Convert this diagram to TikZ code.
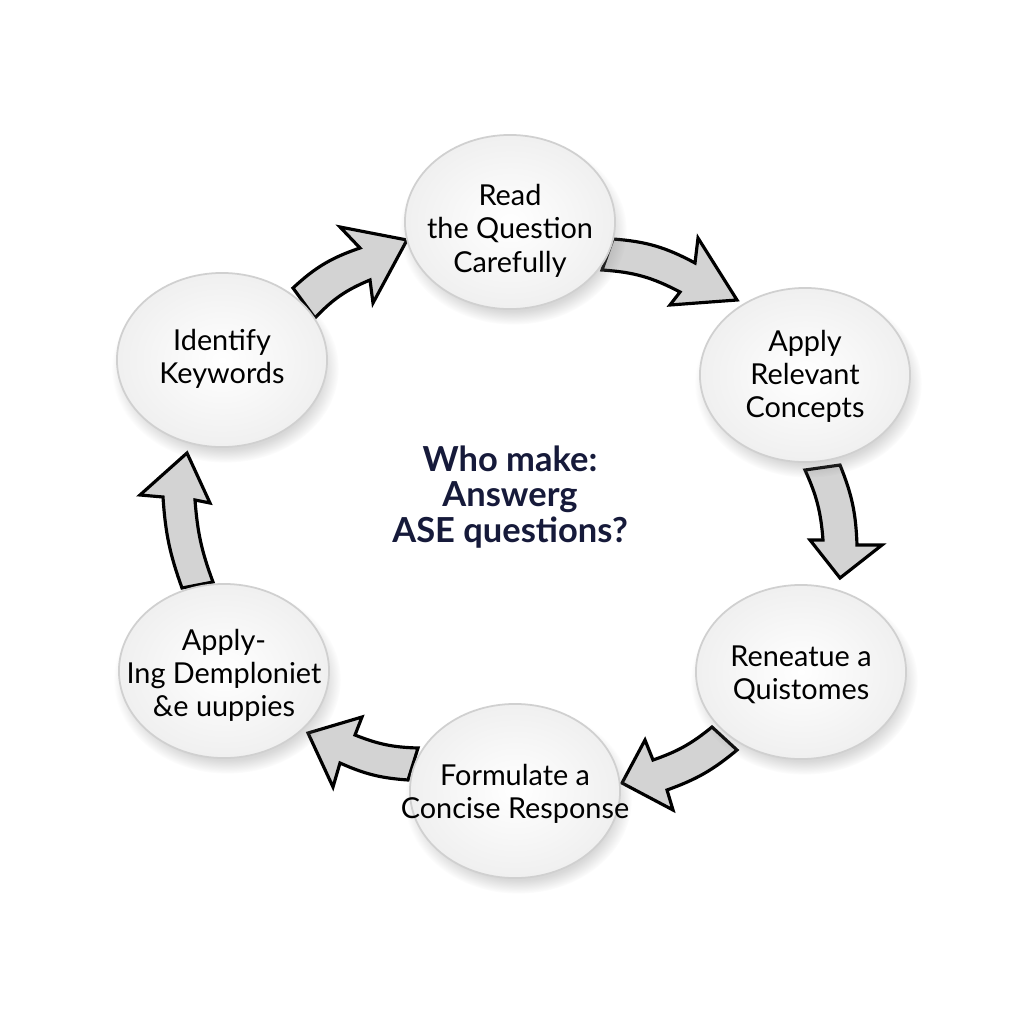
\documentclass[tikz,border=0pt]{standalone}
\usepackage{fontspec}
\setmainfont{Lato}
\usetikzlibrary{shapes.geometric,shadows,fadings}
\definecolor{navy}{HTML}{161A3A}
\definecolor{arrowgray}{HTML}{D3D3D3}
\definecolor{rim}{HTML}{D0D0D0}
\newcommand{\bubbletext}[2][0]{\makebox[0pt]{\raisebox{\dimexpr-0.9ex+#1pt\relax}[0pt][0pt]{\begin{tabular}{@{}c@{}}#2\end{tabular}}}}
\begin{document}
\begin{tikzpicture}[x=0.01cm,y=-0.01cm,
  bubble/.style={ellipse, minimum width=2.1cm, minimum height=1.74cm, inner sep=0pt,
    draw=rim, line width=0.5pt, inner color=white, outer color=black!6,
    font=\fontsize{8.2}{9.4}\selectfont, text=black,
    circular drop shadow={shadow scale=1.08, shadow xshift=0.03cm, shadow yshift=-0.08cm, opacity=0.3}},
  blockarrow/.style={fill=arrowgray, draw=black, line width=0.9pt, line join=miter},
  titletext/.style={align=center, font=\bfseries\fontsize{9.8}{10}\selectfont, text=navy}]
\useasboundingbox (0,0) rectangle (1024,1024);
\fill[white] (0,0) rectangle (1024,1024);

% block arrows (drawn first, bubbles overlap their tails)
\path[blockarrow] (293,288) to[bend left=12] (360,248) -- (340,227) -- (407,240) -- (373,303) -- (370,280) to[bend right=12] (315,318) -- cycle;
\path[blockarrow] (613,239) to[bend left=12] (695,263) -- (698,238) -- (737,300) -- (670,305) -- (680,292) to[bend right=12] (602,270) -- cycle;
\path[blockarrow] (840,465) to[bend left=10] (857,545) -- (882,545) -- (840,578) -- (810,540) -- (823,540) to[bend right=10] (805,470) -- cycle;
\path[blockarrow] (737,750) to[bend left=10] (667,790) -- (673,810) -- (622,783) -- (645,740) -- (653,760) to[bend right=10] (712,727) -- cycle;
\path[blockarrow] (408,780) to[bend left=10] (340,763) -- (333,787) -- (308,733) -- (362,717) -- (355,735) to[bend right=10] (418,748) -- cycle;
\path[blockarrow] (182,588) to[bend left=8] (163,497) -- (140,495) -- (187,453) -- (210,503) -- (195,500) to[bend right=8] (213,582) -- cycle;

% bubbles
\node[bubble] (read) at (510,222) {\bubbletext[-1.2]{Read\\the Question\\Carefully}};
\node[bubble] (apply) at (805,375) {\bubbletext[1]{Apply\\Relevant\\Concepts}};
\node[bubble] (renea) at (801,672) {\bubbletext[0.6]{Reneatue a\\Quistomes}};
\node[bubble] (form) at (515,791) {\bubbletext[0.6]{Formulate a\\Concise Response}};
\node[bubble] (applying) at (224,671) {\bubbletext{Apply-\\Ing Demploniet\\\&e uuppies}};
\node[bubble] (ident) at (222,360) {\bubbletext[1.7]{Identify\\Keywords}};

% centre title
\node[titletext] (title) at (510,497) {Who make:\\Answerg\\ASE questions?};
\end{tikzpicture}
\end{document}
